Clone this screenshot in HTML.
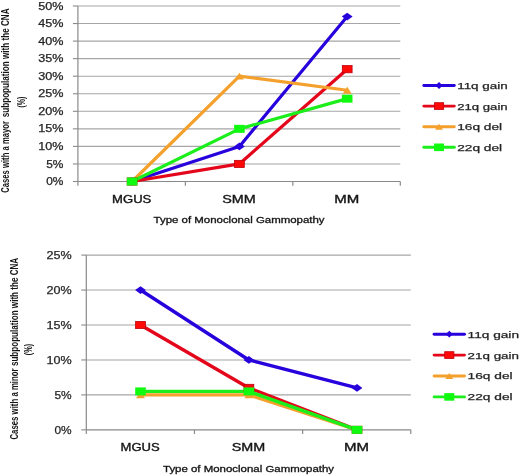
<!DOCTYPE html>
<html><head><meta charset="utf-8"><style>
html,body{margin:0;padding:0;background:#fff;width:520px;height:475px;overflow:hidden}
svg{display:block;font-family:"Liberation Sans", sans-serif;filter:blur(0.3px)}
</style></head><body>
<svg width="520" height="475" viewBox="0 0 520 475">
<rect width="520" height="475" fill="#fff"/>
<line x1="72.9" y1="181.50" x2="77.9" y2="181.50" stroke="#8a8a8a" stroke-width="1.1"/>
<line x1="77.9" y1="163.95" x2="400.3" y2="163.95" stroke="#a6a6a6" stroke-width="1.1"/>
<line x1="72.9" y1="163.95" x2="77.9" y2="163.95" stroke="#8a8a8a" stroke-width="1.1"/>
<line x1="77.9" y1="146.40" x2="400.3" y2="146.40" stroke="#a6a6a6" stroke-width="1.1"/>
<line x1="72.9" y1="146.40" x2="77.9" y2="146.40" stroke="#8a8a8a" stroke-width="1.1"/>
<line x1="77.9" y1="128.85" x2="400.3" y2="128.85" stroke="#a6a6a6" stroke-width="1.1"/>
<line x1="72.9" y1="128.85" x2="77.9" y2="128.85" stroke="#8a8a8a" stroke-width="1.1"/>
<line x1="77.9" y1="111.30" x2="400.3" y2="111.30" stroke="#a6a6a6" stroke-width="1.1"/>
<line x1="72.9" y1="111.30" x2="77.9" y2="111.30" stroke="#8a8a8a" stroke-width="1.1"/>
<line x1="77.9" y1="93.75" x2="400.3" y2="93.75" stroke="#a6a6a6" stroke-width="1.1"/>
<line x1="72.9" y1="93.75" x2="77.9" y2="93.75" stroke="#8a8a8a" stroke-width="1.1"/>
<line x1="77.9" y1="76.20" x2="400.3" y2="76.20" stroke="#a6a6a6" stroke-width="1.1"/>
<line x1="72.9" y1="76.20" x2="77.9" y2="76.20" stroke="#8a8a8a" stroke-width="1.1"/>
<line x1="77.9" y1="58.65" x2="400.3" y2="58.65" stroke="#a6a6a6" stroke-width="1.1"/>
<line x1="72.9" y1="58.65" x2="77.9" y2="58.65" stroke="#8a8a8a" stroke-width="1.1"/>
<line x1="77.9" y1="41.10" x2="400.3" y2="41.10" stroke="#a6a6a6" stroke-width="1.1"/>
<line x1="72.9" y1="41.10" x2="77.9" y2="41.10" stroke="#8a8a8a" stroke-width="1.1"/>
<line x1="77.9" y1="23.55" x2="400.3" y2="23.55" stroke="#a6a6a6" stroke-width="1.1"/>
<line x1="72.9" y1="23.55" x2="77.9" y2="23.55" stroke="#8a8a8a" stroke-width="1.1"/>
<line x1="77.9" y1="6.00" x2="400.3" y2="6.00" stroke="#a6a6a6" stroke-width="1.1"/>
<line x1="72.9" y1="6.00" x2="77.9" y2="6.00" stroke="#8a8a8a" stroke-width="1.1"/>
<line x1="77.9" y1="6.00" x2="77.9" y2="185.70" stroke="#8a8a8a" stroke-width="1.2"/>
<line x1="77.9" y1="181.50" x2="400.3" y2="181.50" stroke="#8a8a8a" stroke-width="1.2"/>
<line x1="185.37" y1="181.50" x2="185.37" y2="185.70" stroke="#8a8a8a" stroke-width="1.2"/>
<line x1="292.83" y1="181.50" x2="292.83" y2="185.70" stroke="#8a8a8a" stroke-width="1.2"/>
<line x1="400.30" y1="181.50" x2="400.30" y2="185.70" stroke="#8a8a8a" stroke-width="1.2"/>
<text x="63.4" y="185.10" text-anchor="end" font-size="10" fill="#262626" stroke="#262626" stroke-width="0.25" textLength="17.2" lengthAdjust="spacingAndGlyphs">0%</text>
<text x="63.4" y="167.55" text-anchor="end" font-size="10" fill="#262626" stroke="#262626" stroke-width="0.25" textLength="17.2" lengthAdjust="spacingAndGlyphs">5%</text>
<text x="63.4" y="150.00" text-anchor="end" font-size="10" fill="#262626" stroke="#262626" stroke-width="0.25" textLength="25.2" lengthAdjust="spacingAndGlyphs">10%</text>
<text x="63.4" y="132.45" text-anchor="end" font-size="10" fill="#262626" stroke="#262626" stroke-width="0.25" textLength="25.2" lengthAdjust="spacingAndGlyphs">15%</text>
<text x="63.4" y="114.90" text-anchor="end" font-size="10" fill="#262626" stroke="#262626" stroke-width="0.25" textLength="25.2" lengthAdjust="spacingAndGlyphs">20%</text>
<text x="63.4" y="97.35" text-anchor="end" font-size="10" fill="#262626" stroke="#262626" stroke-width="0.25" textLength="25.2" lengthAdjust="spacingAndGlyphs">25%</text>
<text x="63.4" y="79.80" text-anchor="end" font-size="10" fill="#262626" stroke="#262626" stroke-width="0.25" textLength="25.2" lengthAdjust="spacingAndGlyphs">30%</text>
<text x="63.4" y="62.25" text-anchor="end" font-size="10" fill="#262626" stroke="#262626" stroke-width="0.25" textLength="25.2" lengthAdjust="spacingAndGlyphs">35%</text>
<text x="63.4" y="44.70" text-anchor="end" font-size="10" fill="#262626" stroke="#262626" stroke-width="0.25" textLength="25.2" lengthAdjust="spacingAndGlyphs">40%</text>
<text x="63.4" y="27.15" text-anchor="end" font-size="10" fill="#262626" stroke="#262626" stroke-width="0.25" textLength="25.2" lengthAdjust="spacingAndGlyphs">45%</text>
<text x="63.4" y="9.60" text-anchor="end" font-size="10" fill="#262626" stroke="#262626" stroke-width="0.25" textLength="25.2" lengthAdjust="spacingAndGlyphs">50%</text>
<polyline points="132.10,181.50 239.40,146.40 347.20,16.53" fill="none" stroke="#2802dc" stroke-width="3.2" stroke-linejoin="round"/>
<polyline points="132.10,181.50 239.40,163.95 347.20,69.18" fill="none" stroke="#e4061a" stroke-width="3.2" stroke-linejoin="round"/>
<polyline points="132.10,181.50 239.40,76.20 347.20,90.24" fill="none" stroke="#f4a02c" stroke-width="3.2" stroke-linejoin="round"/>
<polyline points="132.10,181.50 239.40,128.85 347.20,98.66" fill="none" stroke="#1cee1c" stroke-width="3.2" stroke-linejoin="round"/>
<polygon points="126.70,181.50 132.10,177.60 137.50,181.50 132.10,185.40" fill="#2802dc"/>
<polygon points="234.00,146.40 239.40,142.50 244.80,146.40 239.40,150.30" fill="#2802dc"/>
<polygon points="341.80,16.53 347.20,12.63 352.60,16.53 347.20,20.43" fill="#2802dc"/>
<rect x="127.20" y="177.90" width="9.80" height="7.20" fill="#ff0808" stroke="#c0000c" stroke-width="0.8"/>
<rect x="234.50" y="160.35" width="9.80" height="7.20" fill="#ff0808" stroke="#c0000c" stroke-width="0.8"/>
<rect x="342.30" y="65.58" width="9.80" height="7.20" fill="#ff0808" stroke="#c0000c" stroke-width="0.8"/>
<polygon points="127.60,184.90 132.10,178.10 136.60,184.90" fill="#f4a02c"/>
<polygon points="234.90,79.60 239.40,72.80 243.90,79.60" fill="#f4a02c"/>
<polygon points="342.70,93.64 347.20,86.84 351.70,93.64" fill="#f4a02c"/>
<rect x="126.80" y="177.50" width="10.60" height="8.00" fill="#10fa10"/>
<rect x="234.10" y="124.85" width="10.60" height="8.00" fill="#10fa10"/>
<rect x="341.90" y="94.66" width="10.60" height="8.00" fill="#10fa10"/>
<text x="131.70" y="202.8" text-anchor="middle" font-size="10.4" font-weight="normal" stroke="#151515" stroke-width="0.35" fill="#151515" textLength="39.2" lengthAdjust="spacingAndGlyphs">MGUS</text>
<text x="239.00" y="202.8" text-anchor="middle" font-size="10.4" font-weight="normal" stroke="#151515" stroke-width="0.35" fill="#151515" textLength="33.5" lengthAdjust="spacingAndGlyphs">SMM</text>
<text x="346.80" y="202.8" text-anchor="middle" font-size="10.4" font-weight="normal" stroke="#151515" stroke-width="0.35" fill="#151515" textLength="25" lengthAdjust="spacingAndGlyphs">MM</text>
<text x="239.10" y="223" text-anchor="middle" font-size="8.8" font-weight="normal" stroke="#151515" stroke-width="0.3" fill="#151515" textLength="171" lengthAdjust="spacingAndGlyphs">Type of Monoclonal Gammopathy</text>
<line x1="423.8" y1="85.50" x2="454.3" y2="85.50" stroke="#2802dc" stroke-width="2.9" stroke-linecap="round"/>
<polygon points="435.45,85.50 439.05,82.10 442.65,85.50 439.05,88.90" fill="#2802dc"/>
<text x="457.2" y="88.90" font-size="9.4" fill="#262626" stroke="#262626" stroke-width="0.25" textLength="50.5" lengthAdjust="spacingAndGlyphs">11q gain</text>
<line x1="423.8" y1="106.10" x2="454.3" y2="106.10" stroke="#e4061a" stroke-width="2.9" stroke-linecap="round"/>
<rect x="434.45" y="102.70" width="9.20" height="6.80" fill="#ff0808" stroke="#c0000c" stroke-width="0.8"/>
<text x="457.2" y="109.50" font-size="9.4" fill="#262626" stroke="#262626" stroke-width="0.25" textLength="50.5" lengthAdjust="spacingAndGlyphs">21q gain</text>
<line x1="423.8" y1="126.70" x2="454.3" y2="126.70" stroke="#f4a02c" stroke-width="2.9" stroke-linecap="round"/>
<polygon points="435.05,129.70 439.05,123.70 443.05,129.70" fill="#f4a02c"/>
<text x="457.2" y="130.10" font-size="9.4" fill="#262626" stroke="#262626" stroke-width="0.25" textLength="45" lengthAdjust="spacingAndGlyphs">16q del</text>
<line x1="423.8" y1="147.30" x2="454.3" y2="147.30" stroke="#1cee1c" stroke-width="2.9" stroke-linecap="round"/>
<rect x="434.05" y="143.50" width="10.00" height="7.60" fill="#10fa10"/>
<text x="457.2" y="150.70" font-size="9.4" fill="#262626" stroke="#262626" stroke-width="0.25" textLength="45" lengthAdjust="spacingAndGlyphs">22q del</text>
<text transform="translate(9.3,192.80) scale(1.3,1) rotate(-90)" font-size="8.4" font-weight="bold" fill="#151515" textLength="71.80" lengthAdjust="spacingAndGlyphs">Cases with a mayor</text>
<text transform="translate(9.3,117.30) scale(1.3,1) rotate(-90)" font-size="8.4" font-weight="bold" fill="#151515" textLength="108.90" lengthAdjust="spacingAndGlyphs">subpopulation with the CNA</text>
<text transform="translate(24.8,102.1) scale(1.3,1) rotate(-90)" text-anchor="middle" font-size="8.4" font-weight="bold" fill="#151515" textLength="11" lengthAdjust="spacingAndGlyphs">(%)</text>
<line x1="81.3" y1="429.85" x2="86.3" y2="429.85" stroke="#8a8a8a" stroke-width="1.1"/>
<line x1="86.3" y1="394.90" x2="410.8" y2="394.90" stroke="#a6a6a6" stroke-width="1.1"/>
<line x1="81.3" y1="394.90" x2="86.3" y2="394.90" stroke="#8a8a8a" stroke-width="1.1"/>
<line x1="86.3" y1="359.95" x2="410.8" y2="359.95" stroke="#a6a6a6" stroke-width="1.1"/>
<line x1="81.3" y1="359.95" x2="86.3" y2="359.95" stroke="#8a8a8a" stroke-width="1.1"/>
<line x1="86.3" y1="325.00" x2="410.8" y2="325.00" stroke="#a6a6a6" stroke-width="1.1"/>
<line x1="81.3" y1="325.00" x2="86.3" y2="325.00" stroke="#8a8a8a" stroke-width="1.1"/>
<line x1="86.3" y1="290.05" x2="410.8" y2="290.05" stroke="#a6a6a6" stroke-width="1.1"/>
<line x1="81.3" y1="290.05" x2="86.3" y2="290.05" stroke="#8a8a8a" stroke-width="1.1"/>
<line x1="86.3" y1="255.10" x2="410.8" y2="255.10" stroke="#a6a6a6" stroke-width="1.1"/>
<line x1="81.3" y1="255.10" x2="86.3" y2="255.10" stroke="#8a8a8a" stroke-width="1.1"/>
<line x1="86.3" y1="255.10" x2="86.3" y2="434.05" stroke="#8a8a8a" stroke-width="1.2"/>
<line x1="86.3" y1="429.85" x2="410.8" y2="429.85" stroke="#8a8a8a" stroke-width="1.2"/>
<line x1="194.47" y1="429.85" x2="194.47" y2="434.05" stroke="#8a8a8a" stroke-width="1.2"/>
<line x1="302.63" y1="429.85" x2="302.63" y2="434.05" stroke="#8a8a8a" stroke-width="1.2"/>
<line x1="410.80" y1="429.85" x2="410.80" y2="434.05" stroke="#8a8a8a" stroke-width="1.2"/>
<text x="71.6" y="433.74" text-anchor="end" font-size="10.8" fill="#262626" stroke="#262626" stroke-width="0.25" textLength="17.2" lengthAdjust="spacingAndGlyphs">0%</text>
<text x="71.6" y="398.79" text-anchor="end" font-size="10.8" fill="#262626" stroke="#262626" stroke-width="0.25" textLength="17.2" lengthAdjust="spacingAndGlyphs">5%</text>
<text x="71.6" y="363.84" text-anchor="end" font-size="10.8" fill="#262626" stroke="#262626" stroke-width="0.25" textLength="25.2" lengthAdjust="spacingAndGlyphs">10%</text>
<text x="71.6" y="328.89" text-anchor="end" font-size="10.8" fill="#262626" stroke="#262626" stroke-width="0.25" textLength="25.2" lengthAdjust="spacingAndGlyphs">15%</text>
<text x="71.6" y="293.94" text-anchor="end" font-size="10.8" fill="#262626" stroke="#262626" stroke-width="0.25" textLength="25.2" lengthAdjust="spacingAndGlyphs">20%</text>
<text x="71.6" y="258.99" text-anchor="end" font-size="10.8" fill="#262626" stroke="#262626" stroke-width="0.25" textLength="25.2" lengthAdjust="spacingAndGlyphs">25%</text>
<polyline points="140.50,290.05 248.90,359.95 357.00,387.91" fill="none" stroke="#2802dc" stroke-width="3.4" stroke-linejoin="round"/>
<polyline points="140.50,325.00 248.90,387.91 357.00,429.85" fill="none" stroke="#e4061a" stroke-width="3.4" stroke-linejoin="round"/>
<polyline points="140.50,394.90 248.90,394.90 357.00,429.85" fill="none" stroke="#f4a02c" stroke-width="3.4" stroke-linejoin="round"/>
<polyline points="140.50,391.41 248.90,391.41 357.00,429.85" fill="none" stroke="#1cee1c" stroke-width="3.4" stroke-linejoin="round"/>
<polygon points="135.10,290.05 140.50,286.15 145.90,290.05 140.50,293.95" fill="#2802dc"/>
<polygon points="243.50,359.95 248.90,356.05 254.30,359.95 248.90,363.85" fill="#2802dc"/>
<polygon points="351.60,387.91 357.00,384.01 362.40,387.91 357.00,391.81" fill="#2802dc"/>
<rect x="135.60" y="321.40" width="9.80" height="7.20" fill="#ff0808" stroke="#c0000c" stroke-width="0.8"/>
<rect x="244.00" y="384.31" width="9.80" height="7.20" fill="#ff0808" stroke="#c0000c" stroke-width="0.8"/>
<rect x="352.10" y="426.25" width="9.80" height="7.20" fill="#ff0808" stroke="#c0000c" stroke-width="0.8"/>
<polygon points="136.00,398.30 140.50,391.50 145.00,398.30" fill="#f4a02c"/>
<polygon points="244.40,398.30 248.90,391.50 253.40,398.30" fill="#f4a02c"/>
<polygon points="352.50,433.25 357.00,426.45 361.50,433.25" fill="#f4a02c"/>
<rect x="135.20" y="387.41" width="10.60" height="8.00" fill="#10fa10"/>
<rect x="243.60" y="387.41" width="10.60" height="8.00" fill="#10fa10"/>
<rect x="351.70" y="425.85" width="10.60" height="8.00" fill="#10fa10"/>
<text x="140.10" y="451" text-anchor="middle" font-size="10.4" font-weight="normal" stroke="#151515" stroke-width="0.35" fill="#151515" textLength="39.2" lengthAdjust="spacingAndGlyphs">MGUS</text>
<text x="248.50" y="451" text-anchor="middle" font-size="10.4" font-weight="normal" stroke="#151515" stroke-width="0.35" fill="#151515" textLength="33.5" lengthAdjust="spacingAndGlyphs">SMM</text>
<text x="356.60" y="451" text-anchor="middle" font-size="10.4" font-weight="normal" stroke="#151515" stroke-width="0.35" fill="#151515" textLength="25" lengthAdjust="spacingAndGlyphs">MM</text>
<text x="248.55" y="472" text-anchor="middle" font-size="8.8" font-weight="normal" stroke="#151515" stroke-width="0.3" fill="#151515" textLength="171" lengthAdjust="spacingAndGlyphs">Type of Monoclonal Gammopathy</text>
<line x1="434.1" y1="334.20" x2="464.5" y2="334.20" stroke="#2802dc" stroke-width="2.9" stroke-linecap="round"/>
<polygon points="445.70,334.20 449.30,330.80 452.90,334.20 449.30,337.60" fill="#2802dc"/>
<text x="467.6" y="337.60" font-size="9.4" fill="#262626" stroke="#262626" stroke-width="0.25" textLength="51.4" lengthAdjust="spacingAndGlyphs">11q gain</text>
<line x1="434.1" y1="355.10" x2="464.5" y2="355.10" stroke="#e4061a" stroke-width="2.9" stroke-linecap="round"/>
<rect x="444.70" y="351.70" width="9.20" height="6.80" fill="#ff0808" stroke="#c0000c" stroke-width="0.8"/>
<text x="467.6" y="358.50" font-size="9.4" fill="#262626" stroke="#262626" stroke-width="0.25" textLength="51.4" lengthAdjust="spacingAndGlyphs">21q gain</text>
<line x1="434.1" y1="376.00" x2="464.5" y2="376.00" stroke="#f4a02c" stroke-width="2.9" stroke-linecap="round"/>
<polygon points="445.30,379.00 449.30,373.00 453.30,379.00" fill="#f4a02c"/>
<text x="467.6" y="379.40" font-size="9.4" fill="#262626" stroke="#262626" stroke-width="0.25" textLength="45" lengthAdjust="spacingAndGlyphs">16q del</text>
<line x1="434.1" y1="396.90" x2="464.5" y2="396.90" stroke="#1cee1c" stroke-width="2.9" stroke-linecap="round"/>
<rect x="444.30" y="393.10" width="10.00" height="7.60" fill="#10fa10"/>
<text x="467.6" y="400.30" font-size="9.4" fill="#262626" stroke="#262626" stroke-width="0.25" textLength="45" lengthAdjust="spacingAndGlyphs">22q del</text>
<text transform="translate(17.8,439.60) scale(1.3,1) rotate(-90)" font-size="8.4" font-weight="bold" fill="#151515" textLength="71.20" lengthAdjust="spacingAndGlyphs">Cases with a minor</text>
<text transform="translate(17.8,366.10) scale(1.3,1) rotate(-90)" font-size="8.4" font-weight="bold" fill="#151515" textLength="108.30" lengthAdjust="spacingAndGlyphs">subpopulation with the CNA</text>
<text transform="translate(32.2,349.6) scale(1.3,1) rotate(-90)" text-anchor="middle" font-size="8.4" font-weight="bold" fill="#151515" textLength="11.4" lengthAdjust="spacingAndGlyphs">(%)</text>
</svg>
</body></html>
